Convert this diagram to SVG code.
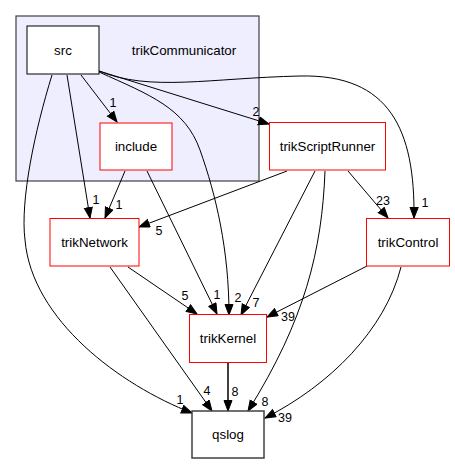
<svg xmlns="http://www.w3.org/2000/svg" width="455" height="464" viewBox="0 0 455 464">
<style>
text{font-family:"Liberation Sans",Arial,sans-serif;fill:#000}
.nl{font-size:13.33px;text-anchor:middle}
.el{font-size:12.5px;text-anchor:middle}
.e{fill:none;stroke:#000;stroke-width:1;marker-end:url(#ah)}
.red{fill:#fff;stroke:#ff0000;stroke-width:1}
</style>
<defs>
<marker id="ah" markerUnits="userSpaceOnUse" markerWidth="12" markerHeight="10" refX="11" refY="4.5" orient="auto">
<path d="M0.5,0.5 L11,4.5 L0.5,8.5 z" fill="#000" stroke="#000" stroke-width="1"/>
</marker>
</defs>
<rect width="455" height="464" fill="#fff"/>
<g id="cluster_trikCommunicator">
<rect x="16" y="16" width="243" height="165" fill="#eeeeff" stroke="#404040" stroke-width="1.2"/>
<text class="nl" x="184" y="55">trikCommunicator</text>
</g>
<g id="edges">
<path class="e" d="M81,75 L117,122"/>
<text class="el" x="113" y="107">1</text>
<path class="e" d="M99,71 L269,124"/>
<text class="el" x="256" y="116">2</text>
<path class="e" d="M99,71 C150,92 210,78 300,76 C390,74 415,130 414,218"/>
<text class="el" x="425" y="207">1</text>
<path class="e" d="M67,75 L90,218"/>
<text class="el" x="96" y="204">1</text>
<path class="e" d="M52,75 C35,130 20,200 25,240 C32,320 120,385 192,413"/>
<text class="el" x="180" y="404">1</text>
<path class="e" d="M99,72 C150,95 185,108 200,150 C216,195 229,250 229,315"/>
<text class="el" x="238" y="302">2</text>
<path class="e" d="M125,171 L105,218"/>
<text class="el" x="119" y="209">1</text>
<path class="e" d="M147,171 L217,314"/>
<text class="el" x="217" y="299">1</text>
<path class="e" d="M287,171 L139,227"/>
<text class="el" x="159" y="235">5</text>
<path class="e" d="M315,171 L241,315"/>
<text class="el" x="256" y="307">7</text>
<path class="e" d="M325,171 C322,250 305,320 248,411"/>
<text class="el" x="265" y="406">8</text>
<path class="e" d="M348,171 L388,218"/>
<text class="el" x="383" y="205">23</text>
<path class="e" d="M128,267 L197,314"/>
<text class="el" x="185" y="300">5</text>
<path class="e" d="M110,267 L212,411"/>
<text class="el" x="207" y="395">4</text>
<path class="e" d="M367,266 L267,317"/>
<text class="el" x="288" y="321">39</text>
<path class="e" d="M401,267 C385,330 330,385 265,418"/>
<text class="el" x="285" y="422">39</text>
<path class="e" d="M228,363 L228,411" style="stroke-width:1.5"/>
<text class="el" x="235" y="396">8</text>
</g>
<g id="node_src">
<rect x="27" y="26" width="72" height="48" fill="#fff" stroke="#000" stroke-width="1"/>
<text class="nl" x="63" y="55">src</text>
</g>
<g id="node_include">
<rect class="red" x="100" y="123" width="72" height="47"/>
<text class="nl" x="136" y="151">include</text>
</g>
<g id="node_trikScriptRunner">
<rect class="red" x="269.5" y="122.5" width="116" height="47.5"/>
<text class="nl" x="327.5" y="151">trikScriptRunner</text>
</g>
<g id="node_trikControl">
<rect class="red" x="366.5" y="218.5" width="83" height="47.5"/>
<text class="nl" x="408" y="247">trikControl</text>
</g>
<g id="node_trikNetwork">
<rect class="red" x="50" y="218.5" width="89" height="47.5"/>
<text class="nl" x="94.5" y="247">trikNetwork</text>
</g>
<g id="node_trikKernel">
<rect class="red" x="189.5" y="314.5" width="77" height="48"/>
<text class="nl" x="228" y="343">trikKernel</text>
</g>
<g id="node_qslog">
<rect x="192" y="411" width="72" height="47" fill="#fff" stroke="#404040" stroke-width="1.5"/>
<text class="nl" x="228" y="439">qslog</text>
</g>
</svg>
